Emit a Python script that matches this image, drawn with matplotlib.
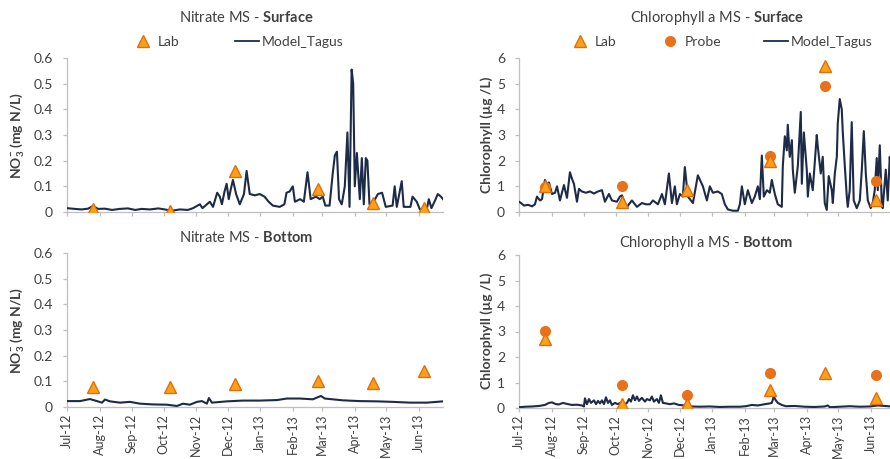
import matplotlib
matplotlib.use('Agg')
import matplotlib.pyplot as plt
import matplotlib.dates as mdates
from matplotlib.ticker import FuncFormatter, MultipleLocator
from matplotlib.lines import Line2D
import numpy as np
import pandas as pd

plt.rcParams['font.family'] = ['Lato', 'DejaVu Sans']
plt.rcParams['mathtext.fontset'] = 'custom'
plt.rcParams['mathtext.rm'] = 'Lato'
plt.rcParams['mathtext.bf'] = 'Lato:bold'
plt.rcParams['mathtext.it'] = 'Lato:italic'

START = '2012-07-01'
END = '2013-06-24'

# sampling dates (Lab / Probe)
sample_dates = ['2012-07-26', '2012-10-07', '2012-12-08', '2013-02-25', '2013-04-18', '2013-06-06']

# ---- Nitrate ----
no3_lab_surface = [0.01, 0.005, 0.16, 0.09, 0.035, 0.015]
no3_lab_bottom = [0.078, 0.076, 0.091, 0.10, 0.095, 0.14]

no3_model_surface_days = [0, 7.6, 14, 20, 25, 29.5, 36, 43, 50, 58,
                          65, 71, 79, 87, 93, 100, 107.5, 115, 120, 126.5,
                          129, 136, 139, 143, 145.5, 147.5, 150, 152, 154, 156,
                          158, 161, 164.5, 168.5, 171, 174, 179, 183.5, 188, 192,
                          196, 202.5, 207, 209, 212, 215, 217, 222, 225.5, 229,
                          232, 237, 240.7, 243.5, 246, 250, 253, 255, 257, 259,
                          261.6, 264.5, 267, 269, 271, 272.5, 274, 276, 278.8, 280.7,
                          282.6, 284.5, 286, 288, 292, 296, 300, 303.5, 310, 312,
                          314, 318.7, 320.6, 327, 329, 333, 336, 342.5, 344.5, 347,
                          351, 353, 356, 358]
no3_model_surface = [0.015, 0.012, 0.01, 0.013, 0.024, 0.012, 0.013, 0.008, 0.012, 0.014,
                     0.008, 0.012, 0.01, 0.014, 0.01, 0.005, 0.01, 0.008, 0.015, 0.03,
                     0.015, 0.04, 0.02, 0.075, 0.06, 0.03, 0.08, 0.11, 0.05, 0.09,
                     0.125, 0.07, 0.03, 0.07, 0.16, 0.07, 0.065, 0.07, 0.06, 0.04,
                     0.025, 0.02, 0.03, 0.075, 0.08, 0.1, 0.04, 0.05, 0.04, 0.155,
                     0.05, 0.06, 0.05, 0.06, 0.025, 0.025, 0.15, 0.22, 0.235, 0.05,
                     0.03, 0.1, 0.31, 0.02, 0.555, 0.5, 0.1, 0.23, 0.05, 0.21,
                     0.03, 0.21, 0.2, 0.03, 0.04, 0.07, 0.075, 0.02, 0.025, 0.1,
                     0.02, 0.12, 0.02, 0.02, 0.06, 0.04, 0.01, 0.01, 0.05, 0.015,
                     0.05, 0.07, 0.06, 0.05]

no3_model_bottom_days = [0, 12.4, 21.9, 28.5, 33.3, 36.2, 40.9, 50.4, 59.9, 69.5,
                         81.8, 95.1, 104.7, 110.4, 117, 123.7, 128.5, 133.2, 135.1, 138,
                         152.2, 167.5, 183.6, 199.8, 209.3, 221.7, 234.1, 241.7, 245.5, 262.6,
                         278.8, 295, 310.2, 326.4, 342.5, 352, 357.8]
no3_model_bottom = [0.023, 0.023, 0.031, 0.023, 0.017, 0.029, 0.022, 0.017, 0.02, 0.013,
                    0.01, 0.009, 0.004, 0.013, 0.009, 0.02, 0.023, 0.013, 0.035, 0.017,
                    0.022, 0.025, 0.025, 0.027, 0.033, 0.033, 0.03, 0.043, 0.033, 0.026,
                    0.023, 0.022, 0.02, 0.017, 0.017, 0.02, 0.022]

# ---- Chlorophyll ----
chl_lab_surface = [1.0, 0.4, 0.87, 1.98, 5.7, 0.48]
chl_probe_surface = [0.98, 1.0, np.nan, 2.19, 4.92, 1.2]
chl_lab_bottom = [2.7, 0.17, 0.17, 0.69, 1.39, 0.41]
chl_probe_bottom = [3.03, 0.89, 0.5, 1.39, np.nan, 1.31]

chl_model_surface_days = [0, 1.9, 4.8, 8.6, 12.4, 15.2, 17.1, 20, 21.9, 24.7,
                          26.6, 28.5, 31.4, 34.3, 36.2, 39, 42.8, 45.7, 48.5, 50.4,
                          52.3, 55.2, 57.1, 59.9, 63.7, 67.6, 71.4, 75.2, 79, 81.8,
                          85.6, 88.5, 93.2, 96.1, 98, 100.9, 102.8, 107.5, 112.3, 117,
                          120.8, 124.6, 127.5, 132.3, 136.1, 138.9, 142.7, 145.6, 148.4, 150.3,
                          153.2, 156, 157.9, 160.8, 165.6, 170.3, 175.1, 178.9, 181.7, 184.6,
                          189.3, 193.1, 196, 198.9, 203.6, 208.4, 210.3, 212.2, 215, 217.9,
                          221.7, 224.5, 227.4, 229.3, 231.2, 233.1, 236, 238.8, 240.7, 243.6,
                          246.4, 250.2, 251.2, 253.1, 255, 255.9, 257.8, 259.8, 260.7, 262.6,
                          265.5, 268.3, 269.3, 271.2, 274, 275, 276.9, 279.7, 283.5, 284.5,
                          287.3, 289.2, 291.1, 293, 294.9, 297.8, 298.8, 300.7, 302.6, 303.5,
                          305.4, 307.3, 308.3, 310.2, 312.1, 313, 314.9, 316.8, 318.7, 321.6,
                          324.5, 326.4, 328.3, 330.2, 332.1, 334.9, 336.8, 338.7, 340.6, 341.6,
                          343.5, 345.4, 346.3, 349.2, 351.1, 353, 355.8]
chl_model_surface = [0.4, 0.35, 0.25, 0.28, 0.22, 0.3, 0.6, 0.45, 0.5, 1.25,
                     1.05, 1.15, 0.7, 0.75, 1.0, 0.45, 1.05, 0.55, 1.55, 1.3,
                     1.1, 0.4, 0.9, 0.8, 0.75, 0.8, 0.72, 0.8, 0.85, 0.4,
                     0.7, 0.45, 0.4, 0.6, 0.65, 0.35, 0.2, 0.45, 0.2, 0.35,
                     0.3, 0.3, 0.45, 0.3, 0.7, 0.3, 1.5, 0.35, 1.0, 0.3,
                     0.7, 0.6, 1.75, 0.6, 0.35, 1.43, 1.0, 0.45, 1.0, 0.75,
                     0.8, 0.7, 0.3, 0.1, 0.05, 0.05, 0.3, 1.0, 0.3, 0.85,
                     0.35, 0.6, 1.0, 0.5, 2.2, 0.6, 0.85, 0.75, 1.25, 0.7,
                     0.3, 0.2, 1.8, 2.95, 2.4, 3.4, 2.15, 2.8, 1.65, 0.75,
                     1.8, 3.9, 1.1, 3.1, 1.65, 0.6, 1.5, 0.85, 3.0, 2.55,
                     1.5, 2.15, 0.35, 0.08, 1.4, 0.85, 0.35, 1.5, 2.15, 3.45,
                     4.4, 4.0, 3.1, 1.8, 0.6, 0.2, 0.85, 3.5, 0.45, 0.15,
                     0.45, 1.65, 3.15, 1.5, 0.45, 0.15, 0.35, 0.85, 2.1, 0.85,
                     2.6, 0.35, 0.15, 1.65, 0.45, 2.15, 0.5]

chl_model_bottom_days = [0, 5.7, 12.4, 19, 24.7, 28.5, 31.4, 35.2, 38, 41.9,
                         45.7, 50.4, 55.2, 59.9, 61.8, 62.8, 64.7, 66.6, 68.5, 71.4,
                         73.3, 75.2, 77.1, 79, 80.9, 82.8, 84.7, 86.6, 88.5, 91.3,
                         94.2, 97.1, 99.9, 102.8, 104.7, 106.6, 108.5, 110.4, 112.3, 114.2,
                         117, 119.9, 121.8, 124.6, 126.5, 128.5, 131.3, 133.2, 135.1, 137,
                         139.9, 143.7, 147.5, 152.2, 157.9, 164.6, 172.2, 181.7, 191.3, 200.8,
                         210.3, 216, 221.7, 227.4, 234.1, 238.8, 240.7, 242.6, 244.5, 246.4,
                         250.2, 254, 262.6, 272.1, 281.6, 291.1, 294, 295.9, 305.4, 314.9,
                         324.5, 334, 341.6, 348.2, 357.8]
chl_model_bottom = [0.03, 0.05, 0.06, 0.08, 0.12, 0.2, 0.22, 0.15, 0.14, 0.2,
                    0.16, 0.12, 0.13, 0.1, 0.06, 0.38, 0.15, 0.35, 0.2, 0.3,
                    0.15, 0.28, 0.18, 0.3, 0.15, 0.42, 0.2, 0.3, 0.12, 0.2,
                    0.15, 0.22, 0.12, 0.2, 0.35, 0.25, 0.5, 0.3, 0.45, 0.28,
                    0.4, 0.25, 0.35, 0.3, 0.45, 0.25, 0.35, 0.2, 0.5, 0.2,
                    0.18, 0.15, 0.18, 0.12, 0.1, 0.06, 0.05, 0.06, 0.04, 0.05,
                    0.05, 0.07, 0.12, 0.1, 0.15, 0.18, 0.2, 0.45, 0.3, 0.2,
                    0.12, 0.07, 0.08, 0.05, 0.04, 0.06, 0.1, 0.03, 0.05, 0.07,
                    0.05, 0.06, 0.1, 0.08, 0.05]

# ---- style ----
LINE_C = '#1d2b48'
TRI_FACE = '#f9a11b'
TRI_EDGE = '#e46c0a'
CIRC_C = '#e8721c'
AXIS_C = '#bfbfbf'
TEXT_C = '#404040'

W, H = 890, 459
fig = plt.figure(figsize=(W / 100, H / 100), dpi=100)


def rect(left, top, right, bottom):
    return [left / W, 1 - bottom / H, (right - left) / W, (bottom - top) / H]


def to_dates(days):
    return pd.Timestamp(START) + pd.to_timedelta(np.asarray(days, dtype=float), unit='D')


def style(ax, ymax, ystep, show_xlabels):
    ax.set_xlim(pd.Timestamp(START), pd.Timestamp(END))
    ax.set_ylim(0, ymax)
    ax.yaxis.set_major_locator(MultipleLocator(ystep))
    ax.yaxis.set_major_formatter(FuncFormatter(lambda v, p: f'{v:g}'))
    ax.xaxis.set_major_locator(mdates.MonthLocator())
    ax.xaxis.set_major_formatter(mdates.DateFormatter('%b-%y'))
    for s in ['top', 'right']:
        ax.spines[s].set_visible(False)
    for s in ['left', 'bottom']:
        ax.spines[s].set_color(AXIS_C)
        ax.spines[s].set_linewidth(0.9)
    ax.tick_params(axis='both', colors=AXIS_C, labelcolor=TEXT_C, labelsize=10,
                   length=3, width=0.9, direction='out')
    ax.tick_params(axis='y', pad=7)
    ax.tick_params(axis='x', pad=2, labelsize=9)
    if show_xlabels:
        for lab in ax.get_xticklabels():
            lab.set_rotation(90)
    else:
        ax.tick_params(labelbottom=False)


samp = pd.to_datetime(sample_dates)

tri_kw = dict(linestyle='none', marker='^', ms=8, mfc=TRI_FACE, mec=TRI_EDGE, mew=1.0, zorder=5)
circ_kw = dict(linestyle='none', marker='o', ms=7, mfc=CIRC_C, mec=CIRC_C, zorder=4)
line_kw = dict(color=LINE_C, lw=1.5, zorder=3)

# Nitrate surface
ax1 = fig.add_axes(rect(67, 58, 443, 212))
ax1.plot(to_dates(no3_model_surface_days), no3_model_surface, **line_kw)
ax1.plot(samp, no3_lab_surface, **tri_kw)
style(ax1, 0.6, 0.1, False)

# Nitrate bottom
ax2 = fig.add_axes(rect(67, 253, 443, 407))
ax2.plot(to_dates(no3_model_bottom_days), no3_model_bottom, **line_kw)
ax2.plot(samp, no3_lab_bottom, **tri_kw)
style(ax2, 0.6, 0.1, True)

# Chlorophyll surface
ax3 = fig.add_axes(rect(519, 58, 895, 212))
ax3.plot(to_dates(chl_model_surface_days), chl_model_surface, **line_kw)
ax3.plot(samp, chl_probe_surface, **circ_kw)
ax3.plot(samp, chl_lab_surface, **tri_kw)
style(ax3, 6, 1, False)

# Chlorophyll bottom
ax4 = fig.add_axes(rect(519, 255, 895, 408))
ax4.plot(to_dates(chl_model_bottom_days), chl_model_bottom, **line_kw)
ax4.plot(samp, chl_probe_bottom, **circ_kw)
ax4.plot(samp, chl_lab_bottom, **tri_kw)
style(ax4, 6, 1, True)


def ftext(x, y, s, **kw):
    fig.text(x / W, 1 - y / H, s, ha='center', va='center', color=TEXT_C, **kw)


ftext(246, 18, r'Nitrate MS - $\mathbf{Surface}$', fontsize=10.5)
ftext(246, 237, r'Nitrate MS - $\mathbf{Bottom}$', fontsize=10.5)
ftext(717, 18, r'Chlorophyll a MS - $\mathbf{Surface}$', fontsize=10.5)
ftext(706, 243, r'Chlorophyll a MS - $\mathbf{Bottom}$', fontsize=10.5)

no3_label = r'$\mathbf{NO}_{\mathbf{3}}^{\mathbf{-}}$ (mg N/L)'
chl_label = 'Chlorophyll (µg /L)'
ftext(18, 135, no3_label, fontsize=10, rotation=90, fontweight='bold')
ftext(18, 330, no3_label, fontsize=10, rotation=90, fontweight='bold')
ftext(487, 135, chl_label, fontsize=10, rotation=90, fontweight='bold')
ftext(487, 331, chl_label, fontsize=10, rotation=90, fontweight='bold')

h_lab = Line2D([], [], **{k: v for k, v in tri_kw.items() if k != 'zorder'})
h_probe = Line2D([], [], **{k: v for k, v in circ_kw.items() if k != 'zorder'})
h_model = Line2D([], [], color=LINE_C, lw=1.3)

leg_kw = dict(loc='center', frameon=False, fontsize=10, handlelength=1.75,
              handletextpad=0.2, borderaxespad=0, borderpad=0)
leg1 = fig.legend([h_lab, h_model], ['Lab', 'Model_Tagus'], ncol=2, columnspacing=4.0,
                  bbox_to_anchor=(237 / W, 1 - 42 / H), **leg_kw)
leg2 = fig.legend([h_lab, h_probe, h_model], ['Lab', 'Probe', 'Model_Tagus'], ncol=3,
                  columnspacing=3.0, bbox_to_anchor=(720 / W, 1 - 42 / H), **leg_kw)
for leg in (leg1, leg2):
    for t in leg.get_texts():
        t.set_color(TEXT_C)

fig.savefig('out.png', dpi=100, facecolor='white')
